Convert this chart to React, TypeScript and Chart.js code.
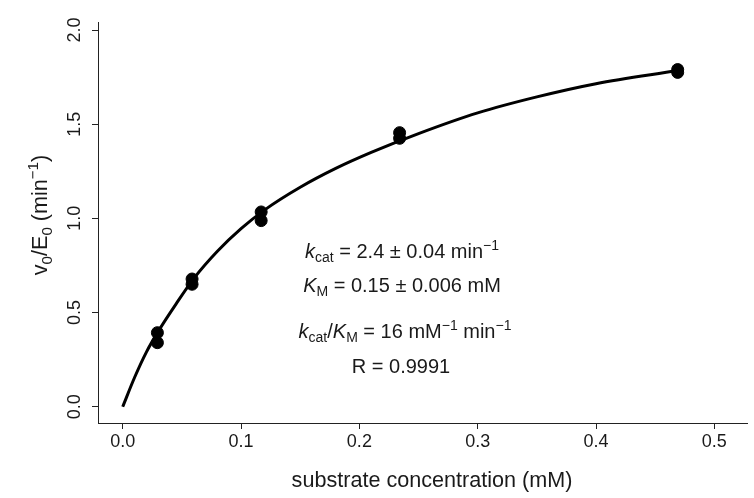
import React, { useEffect, useRef } from "react";
import { Chart, registerables } from "chart.js";

Chart.register(...registerables);

// Measured substrate concentrations (mM) and rates v0/E0 (min^-1), duplicates
const pointX = [0.0293, 0.0293, 0.0586, 0.0586, 0.117, 0.117, 0.234, 0.234, 0.469, 0.469];
const pointY = [0.393, 0.340, 0.678, 0.650, 1.034, 0.988, 1.455, 1.425, 1.790, 1.775];

// Fitted curve
const curveX = [0, 0.01, 0.02, 0.03, 0.045, 0.06, 0.08, 0.1, 0.12, 0.15, 0.18, 0.21, 0.25, 0.3, 0.35, 0.4, 0.469];
const curveY = [0, 0.155, 0.29, 0.4, 0.545, 0.68, 0.825, 0.945, 1.045, 1.165, 1.265, 1.35, 1.45, 1.56, 1.645, 1.715, 1.785];

const xTicks = [0, 0.1, 0.2, 0.3, 0.4, 0.5];
const yTicks = [0, 0.5, 1.0, 1.5, 2.0];
const xTickLabels = ["0.0", "0.1", "0.2", "0.3", "0.4", "0.5"];
const yTickLabels = ["0.0", "0.5", "1.0", "1.5", "2.0"];

const xTitle = "substrate concentration (mM)";

const FONT = "'Liberation Sans', Arial, sans-serif";
const TEXT = "#1a1a1a";

type Part = { t: string; italic?: boolean; scale?: number; dy?: number };

function partFont(p: Part, size: number) {
  const s = size * (p.scale ?? 1);
  return `${p.italic ? "italic " : ""}${s}px ${FONT}`;
}

function drawRich(ctx: CanvasRenderingContext2D, parts: Part[], cx: number, by: number, size: number) {
  let total = 0;
  for (const p of parts) {
    ctx.font = partFont(p, size);
    total += ctx.measureText(p.t).width;
  }
  let x = cx - total / 2;
  ctx.textAlign = "left";
  ctx.textBaseline = "alphabetic";
  for (const p of parts) {
    ctx.font = partFont(p, size);
    ctx.fillText(p.t, x, by + (p.dy ?? 0));
    x += ctx.measureText(p.t).width;
  }
}

const textPlugin = {
  id: "rtext",
  afterDraw(chart: any) {
    const ctx: CanvasRenderingContext2D = chart.ctx;
    const xs = chart.scales.x;
    const ys = chart.scales.y;
    ctx.save();
    ctx.fillStyle = TEXT;
    ctx.font = `18px ${FONT}`;
    ctx.textAlign = "center";
    ctx.textBaseline = "alphabetic";
    xTicks.forEach((v, i) => {
      ctx.fillText(xTickLabels[i], xs.getPixelForValue(v), 447);
    });
    yTicks.forEach((v, i) => {
      ctx.save();
      ctx.translate(80, ys.getPixelForValue(v));
      ctx.rotate(-Math.PI / 2);
      ctx.fillText(yTickLabels[i], 0, 0);
      ctx.restore();
    });
    // x title
    ctx.font = `21.6px ${FONT}`;
    ctx.fillText(xTitle, 432, 487);
    // y title
    ctx.save();
    ctx.translate(47, 215);
    ctx.rotate(-Math.PI / 2);
    drawRich(
      ctx,
      [
        { t: "v" },
        { t: "0", scale: 0.7, dy: 5 },
        { t: "/" },
        { t: "E" },
        { t: "0", scale: 0.7, dy: 5 },
        { t: " (" },
        { t: "min" },
        { t: "\u22121", scale: 0.7, dy: -9 },
        { t: ")" },
      ],
      0,
      0,
      21.6
    );
    ctx.restore();
    // annotations
    const sz = 20;
    drawRich(
      ctx,
      [
        { t: "k", italic: true },
        { t: "cat", scale: 0.7, dy: 4 },
        { t: " = 2.4 \u00b1 0.04 min" },
        { t: "\u22121", scale: 0.7, dy: -8 },
      ],
      402,
      258,
      sz
    );
    drawRich(
      ctx,
      [
        { t: "K", italic: true },
        { t: "M", scale: 0.7, dy: 4 },
        { t: " = 0.15 \u00b1 0.006 mM" },
      ],
      402,
      292,
      sz
    );
    drawRich(
      ctx,
      [
        { t: "k", italic: true },
        { t: "cat", scale: 0.7, dy: 4 },
        { t: "/" },
        { t: "K", italic: true },
        { t: "M", scale: 0.7, dy: 4 },
        { t: " = 16 mM" },
        { t: "\u22121", scale: 0.7, dy: -8 },
        { t: " min" },
        { t: "\u22121", scale: 0.7, dy: -8 },
      ],
      405,
      338,
      sz
    );
    drawRich(ctx, [{ t: "R = 0.9991" }], 401, 373, sz);
    ctx.restore();
  },
};

export default function App() {
  const ref = useRef<HTMLCanvasElement | null>(null);
  useEffect(() => {
    if (!ref.current) return;
    const chart = new Chart(ref.current, {
      type: "scatter",
      data: {
        datasets: [
          {
            type: "line",
            data: curveX.map((x, i) => ({ x, y: curveY[i] })),
            borderColor: "#000",
            borderWidth: 3,
            pointRadius: 0,
            cubicInterpolationMode: "monotone",
            fill: false,
          } as any,
          {
            type: "scatter",
            data: pointX.map((x, i) => ({ x, y: pointY[i] })),
            backgroundColor: "#000",
            borderColor: "#000",
            borderWidth: 1,
            pointRadius: 6,
          },
        ],
      },
      options: {
        animation: false,
        responsive: false,
        devicePixelRatio: 1,
        layout: { padding: { top: 22, left: 0, right: 0, bottom: 0 } },
        plugins: { legend: { display: false }, tooltip: { enabled: false } },
        scales: {
          x: {
            type: "linear",
            position: "bottom",
            min: -0.0209,
            max: 0.5276,
            afterBuildTicks: (s: any) => {
              s.ticks = xTicks.map((v) => ({ value: v }));
            },
            afterFit: (s: any) => {
              s.height = 75;
            },
            ticks: { display: false },
            grid: { display: true, drawOnChartArea: false, drawTicks: true, tickLength: 6, color: "#222", lineWidth: 1 },
            border: { display: true, color: "#222", width: 1 },
          },
          y: {
            type: "linear",
            min: -0.0865,
            max: 2.0425,
            afterBuildTicks: (s: any) => {
              s.ticks = yTicks.map((v) => ({ value: v }));
            },
            afterFit: (s: any) => {
              s.width = 98;
            },
            ticks: { display: false },
            grid: { display: true, drawOnChartArea: false, drawTicks: true, tickLength: 6, color: "#222", lineWidth: 1 },
            border: { display: true, color: "#222", width: 1 },
          },
        },
      },
      plugins: [textPlugin],
    });
    return () => chart.destroy();
  }, []);
  return (
    <div style={{ position: "fixed", left: 0, top: 0, width: 754, height: 498, background: "#fff" }}>
      <canvas ref={ref} width={754} height={498} style={{ display: "block" }} />
    </div>
  );
}
